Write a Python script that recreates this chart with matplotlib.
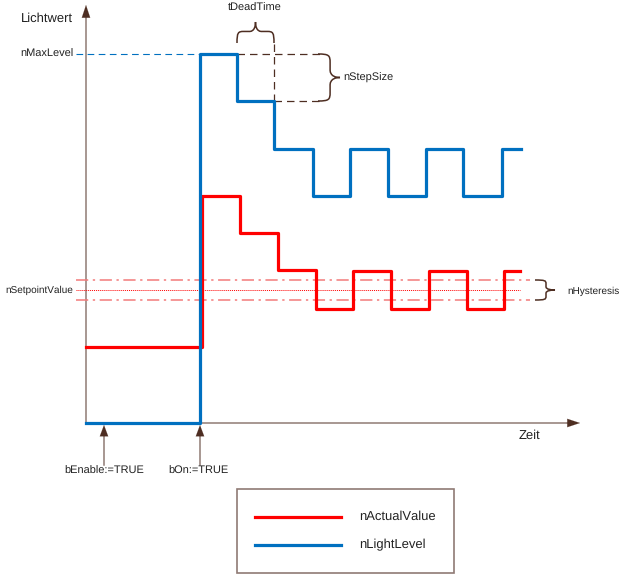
import matplotlib
matplotlib.use("Agg")
import matplotlib.pyplot as plt
from matplotlib.path import Path
from matplotlib.patches import PathPatch, Rectangle

plt.rcParams['font.family'] = ['Liberation Sans', 'DejaVu Sans']
plt.rcParams['text.hinting'] = 'no_hinting'
plt.rcParams['text.hinting_factor'] = 1

# time / level units (1 unit = 1 px of the reference)
light_t = [0, 114, 151, 188, 227, 264, 302, 340, 377, 416, 435]
light_v = [0, 369, 322, 274, 227, 274, 227, 274, 227, 274, 274]

actual_t = [0, 116, 154, 192, 230, 267, 305, 343, 381, 418, 434]
actual_v = [76, 227, 190, 153, 114, 152, 114, 152, 114, 152, 152]

max_level = 369
step_level = 322
setpoint = 133
hysteresis = 10
t_enable = 18
t_on = 114
t_dead = (151, 188)

BLUE = '#0070C0'
RED = '#FF0000'
AXIS = '#8F7A74'
BROWN = '#4E2E22'
LIGHTRED = '#F27A7A'
TXT = '#222222'

fig = plt.figure(figsize=(6.24, 5.75), dpi=100)
ax = fig.add_axes([0, 0, 1, 1])
ax.set_xlim(-86, 538)
ax.set_ylim(-152, 423)
ax.axis('off')


def brace(p_end_a, p_end_b, tip, vertical=False):
    # brace in local coords u (along), v (across, 0 = ends, 1 = tip)
    pts = [(0, 0), (0, 0.5), (0.03, 0.55), (0.18, 0.55),
           (0.34, 0.55),
           (0.34, 0.55), (0.5, 0.52), (0.5, 1.0),
           (0.5, 0.52), (0.66, 0.55), (0.66, 0.55),
           (0.82, 0.55),
           (0.97, 0.55), (1.0, 0.5), (1.0, 0.0)]
    codes = [Path.MOVETO, Path.CURVE4, Path.CURVE4, Path.CURVE4,
             Path.LINETO,
             Path.CURVE4, Path.CURVE4, Path.CURVE4,
             Path.CURVE4, Path.CURVE4, Path.CURVE4,
             Path.LINETO,
             Path.CURVE4, Path.CURVE4, Path.CURVE4]
    verts = []
    for u, v in pts:
        if vertical:
            x = p_end_a[0] + v * (tip - p_end_a[0])
            y = p_end_a[1] + u * (p_end_b[1] - p_end_a[1])
        else:
            x = p_end_a[0] + u * (p_end_b[0] - p_end_a[0])
            y = p_end_a[1] + v * (tip - p_end_a[1])
        verts.append((x, y))
    ax.add_patch(PathPatch(Path(verts, codes), fill=False, ec=BROWN, lw=1.1))


# axes with arrows
ax.plot([0, 0], [0, 410], color=AXIS, lw=1.1)
ax.plot([0, 486], [0, 0], color=AXIS, lw=1.1)
ax.annotate('', xy=(0, 418), xytext=(0, 404),
            arrowprops=dict(arrowstyle='-|>,head_length=0.9,head_width=0.3',
                            color=BROWN, lw=0.1, shrinkA=0, shrinkB=0))
ax.annotate('', xy=(494, 0), xytext=(480, 0),
            arrowprops=dict(arrowstyle='-|>,head_length=0.9,head_width=0.3',
                            color=BROWN, lw=0.1, shrinkA=0, shrinkB=0))

# event arrows below the time axis
for t in (t_enable, t_on):
    ax.plot([t, t], [-42, -10], color=AXIS, lw=1.1)
    ax.annotate('', xy=(t, -2), xytext=(t, -14),
                arrowprops=dict(arrowstyle='-|>,head_length=0.8,head_width=0.3',
                                color=BROWN, lw=0.1, shrinkA=0, shrinkB=0))

# reference lines
ax.plot([-10, t_on], [max_level, max_level], color=BLUE, lw=0.8, dashes=(6, 4))
ax.plot([-10, 434], [setpoint, setpoint], color=RED, lw=0.7, dashes=(1, 1))
for dv in (hysteresis, -hysteresis):
    ax.plot([-10, 444], [setpoint + dv, setpoint + dv], color=LIGHTRED, lw=1.1,
            dashes=(8, 3, 1.5, 3))

# dead time / step size helpers
ax.plot([t_dead[0], 234], [max_level, max_level], color=BROWN, lw=0.9, dashes=(6, 4))
ax.plot([t_dead[1], 234], [step_level, step_level], color=BROWN, lw=0.9, dashes=(6, 4))
ax.plot([t_dead[1], t_dead[1]], [379, step_level], color=BROWN, lw=0.9, dashes=(6, 4))

# signals
ax.step(actual_t, actual_v, where='post', color=RED, lw=2.3)
ax.step(light_t, light_v, where='post', color=BLUE, lw=2.3)

# braces
brace((t_dead[0], 380), (t_dead[1], 380), 401)
brace((232, max_level), (232, step_level), 254, vertical=True)
brace((449, setpoint + hysteresis), (449, setpoint - hysteresis), 469, vertical=True)

# texts
fs = 7.6
ax.text(-65, 404, 'Lichtwert', fontsize=9.4, ha='left', va='center', color=TXT)
ax.text(443, -13, 'Zeit', fontsize=9.4, ha='center', va='center', color=TXT)
ax.text(-13, max_level, 'nMaxLevel', fontsize=fs, ha='right', va='center', color=TXT)
ax.text(-13, setpoint, 'nSetpointValue', fontsize=7.3, ha='right', va='center', color=TXT)
ax.text(169, 415, 'tDeadTime', fontsize=fs, ha='center', va='center', color=TXT)
ax.text(257, 345, 'nStepSize', fontsize=fs, ha='left', va='center', color=TXT)
ax.text(481, 132, 'nHysteresis', fontsize=7.4, ha='left', va='center', color=TXT)
ax.text(t_enable, -48, 'bEnable:=TRUE', fontsize=fs, ha='center', va='center', color=TXT)
ax.text(t_on - 2, -48, 'bOn:=TRUE', fontsize=fs, ha='center', va='center', color=TXT)

# legend box
ax.add_patch(Rectangle((151, -150), 217, 84, fill=False, ec=AXIS, lw=1.2))
ax.plot([169, 255], [-94, -94], color=RED, lw=2.3)
ax.plot([169, 255], [-122, -122], color=BLUE, lw=2.3)
ax.text(273, -94, 'nActualValue', fontsize=9.6, ha='left', va='center', color=TXT)
ax.text(273, -122, 'nLightLevel', fontsize=9.6, ha='left', va='center', color=TXT)

fig.savefig('out.png', dpi=100)
